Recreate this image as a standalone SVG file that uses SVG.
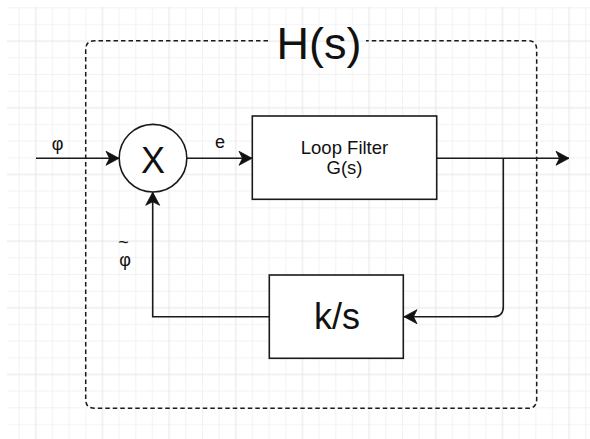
<svg xmlns="http://www.w3.org/2000/svg" width="590" height="439" viewBox="0 0 590 439">
  <style>
    .ln { fill: none; stroke: #1a1a1a; stroke-width: 1.6; }
    .box { fill: #ffffff; stroke: #1a1a1a; stroke-width: 1.6; }
    .dash { fill: none; stroke: #1a1a1a; stroke-width: 1.5; stroke-dasharray: 4.5 3; }
    .t { font-family: "Liberation Sans", Arial, sans-serif; fill: #111111; text-anchor: middle; }
  </style>
  <defs>
    <pattern id="grid" patternUnits="userSpaceOnUse" x="2" y="7.3" width="66.667" height="66.667">
      <path d="M0.5,0 V66.667 M17.17,0 V66.667 M50.5,0 V66.667 M0,0.5 H66.667 M0,17.17 H66.667 M0,50.5 H66.667" stroke="#f2f2f2" stroke-width="1" fill="none"/>
      <path d="M33.83,0 V66.667 M0,33.83 H66.667" stroke="#e6e6e6" stroke-width="1" fill="none"/>
    </pattern>
    <marker id="arr" markerUnits="userSpaceOnUse" viewBox="-14 -8 16 16" refX="0" refY="0" markerWidth="16" markerHeight="16" orient="auto">
      <path d="M0,0 L-13,-7 L-9.5,0 L-13,7 Z" fill="#111111" stroke="#111111" stroke-width="0.8" stroke-linejoin="miter"/>
    </marker>
  </defs>

  <rect x="0" y="0" width="590" height="439" fill="#ffffff"/>
  <rect x="7" y="7" width="583" height="432" fill="url(#grid)"/>

  <g id="frame">
    <path class="dash" d="M268,40.7 H94.7 Q85.7,40.7 85.7,49.7 V399.3 Q85.7,408.3 94.7,408.3 H527.7 Q536.7,408.3 536.7,399.3 V49.7 Q536.7,40.7 527.7,40.7 H366"/>
    <text class="t" x="319" y="58.5" font-size="45">H(s)</text>
  </g>

  <g id="connectors">
    <line class="ln" x1="36" y1="158.3" x2="119" y2="158.3" marker-end="url(#arr)"/>
    <line class="ln" x1="187" y1="158.3" x2="252" y2="158.3" marker-end="url(#arr)"/>
    <line class="ln" x1="436.7" y1="158.3" x2="569" y2="158.3" marker-end="url(#arr)"/>
    <path class="ln" d="M503.3,158.3 V306.7 Q503.3,316.7 493.3,316.7 H404" marker-end="url(#arr)"/>
    <path class="ln" d="M269.3,316.7 H152.7 V192.3" marker-end="url(#arr)"/>
    <text class="t" x="57.5" y="150" font-size="18">φ</text>
    <text class="t" x="220" y="148.3" font-size="18">e</text>
    <text class="t" x="123.5" y="248" font-size="18">~</text>
    <text class="t" x="125" y="266" font-size="18">φ</text>
  </g>

  <g id="mixer">
    <circle cx="153" cy="158.2" r="33.8" class="box"/>
    <text class="t" x="153" y="172.6" font-size="36">X</text>
  </g>

  <g id="loop-filter">
    <rect class="box" x="252.3" y="116" width="184.4" height="83.3"/>
    <text class="t" x="344.5" y="153.6" font-size="18.5">Loop Filter</text>
    <text class="t" x="344.5" y="174.3" font-size="18.5">G(s)</text>
  </g>

  <g id="integrator">
    <rect class="box" x="269.3" y="275" width="134" height="83.3"/>
    <text class="t" x="337" y="329.3" font-size="36">k/s</text>
  </g>
</svg>
